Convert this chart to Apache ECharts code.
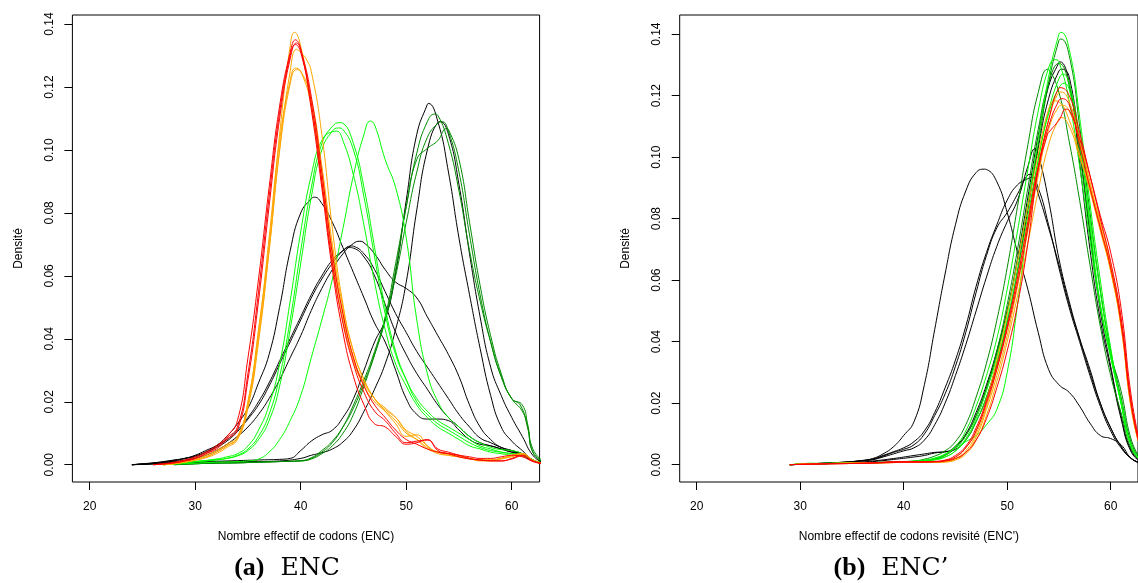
<!DOCTYPE html>
<html>
<head>
<meta charset="utf-8">
<script src="https://cdn.jsdelivr.net/npm/echarts@6/dist/echarts.min.js"></script>
<style>html,body{margin:0;padding:0;background:#fff;}#c{width:1138px;height:583px;}</style>
</head>
<body>
<div id="c"></div>
<script>
// ---------- tick labels ----------
const xTicks = [20, 30, 40, 50, 60];
const yTicks = [0, 0.02, 0.04, 0.06, 0.08, 0.10, 0.12, 0.14];

// ---------- panel (a) ENC : density curves [x, density] ----------
const encBlack1 = [[24,0],[25,0.0002],[26,0.0004],[27,0.0008],[28,0.0012],[29,0.002],[30,0.0025],[31,0.004],[32,0.006],[33,0.009],[34,0.013],[35,0.018],[36,0.026],[37,0.035],[38,0.05],[39,0.068],[40,0.08],[41,0.0845],[41.3,0.085],[42,0.083],[43,0.077],[44,0.069],[45,0.061],[46,0.053],[47,0.045],[48,0.039],[49,0.03],[50,0.021],[51,0.016],[52,0.0145],[53,0.0145],[54,0.014],[55,0.011],[56,0.008],[57,0.0065],[58,0.006],[59,0.005],[60,0.004],[61,0.0035],[62,0.0015],[63,0.0003]];
const encBlack2 = [[24,0],[25,0.0003],[26,0.0006],[27,0.001],[28,0.0015],[29,0.002],[30,0.003],[31,0.0045],[32,0.006],[33,0.008],[34,0.011],[35,0.015],[36,0.02],[37,0.026],[38,0.033],[39,0.04],[40,0.047],[41,0.054],[42,0.06],[43,0.065],[44,0.068],[44.6,0.069],[45,0.0688],[46,0.066],[47,0.06],[48,0.051],[49,0.042],[50,0.035],[51,0.029],[52,0.024],[53,0.019],[54,0.015],[55,0.012],[56,0.009],[57,0.007],[58,0.006],[59,0.005],[60,0.004],[61,0.003],[62,0.0012],[63,0.0003]];
const encBlack3 = [[24,0],[25,0.0002],[26,0.0005],[27,0.0009],[28,0.0014],[29,0.002],[30,0.0028],[31,0.004],[32,0.0055],[33,0.0075],[34,0.0105],[35,0.0145],[36,0.019],[37,0.025],[38,0.032],[39,0.039],[40,0.046],[41,0.053],[42,0.059],[43,0.064],[44,0.068],[44.8,0.0695],[45,0.0694],[46,0.067],[47,0.062],[48,0.055],[49,0.048],[50,0.042],[51,0.036],[52,0.031],[53,0.026],[54,0.021],[55,0.016],[56,0.012],[57,0.0085],[58,0.007],[59,0.0055],[60,0.0045],[61,0.0035],[62,0.0013],[63,0.0003]];
const encBlack4 = [[24,0],[25,0.0002],[26,0.0004],[27,0.0007],[28,0.001],[29,0.0015],[30,0.002],[31,0.003],[32,0.0045],[33,0.0065],[34,0.009],[35,0.012],[36,0.016],[37,0.021],[38,0.027],[39,0.034],[40,0.041],[41,0.049],[42,0.056],[43,0.062],[44,0.067],[45,0.0703],[45.6,0.071],[46,0.0705],[47,0.067],[48,0.062],[49,0.058],[50,0.056],[51,0.053],[52,0.047],[53,0.041],[54,0.035],[55,0.028],[56,0.019],[57,0.012],[58,0.008],[59,0.0055],[60,0.0045],[61,0.003],[62,0.0012],[63,0.0003]];
const encBlack5 = [[24,0],[26,0.0003],[28,0.0007],[30,0.001],[32,0.0011],[34,0.0013],[36,0.0015],[38,0.0017],[39,0.002],[40,0.0045],[41,0.0075],[42,0.0095],[43,0.011],[44,0.015],[45,0.021],[46,0.03],[47,0.039],[48,0.046],[49,0.061],[50,0.084],[51,0.105],[52,0.1145],[52.1,0.1148],[53,0.109],[54,0.093],[55,0.072],[56,0.054],[57,0.037],[58,0.022],[59,0.012],[60,0.0075],[61,0.0045],[62,0.0015],[63,0.0003]];
const encBlack6 = [[24,0],[26,0.0002],[28,0.0005],[30,0.0007],[32,0.0008],[34,0.001],[36,0.001],[38,0.0012],[40,0.002],[41,0.003],[42,0.0038],[43,0.005],[44,0.0072],[45,0.011],[46,0.017],[47,0.024],[48,0.032],[49,0.043],[50,0.058],[51,0.081],[52,0.1],[53,0.1088],[53.2,0.109],[54,0.105],[55,0.089],[56,0.067],[57,0.047],[58,0.031],[59,0.022],[60,0.015],[61,0.009],[62,0.003],[63,0.0005]];
const encDark1 = [[28,0],[30,0.0003],[32,0.0005],[34,0.0006],[36,0.0008],[38,0.001],[40,0.0012],[41,0.002],[42,0.004],[43,0.007],[44,0.012],[45,0.019],[46,0.027],[47,0.036],[48,0.047],[49,0.064],[50,0.082],[51,0.099],[52,0.109],[52.7,0.1114],[53,0.111],[54,0.102],[55,0.087],[56,0.068],[57,0.052],[58,0.039],[59,0.028],[60,0.021],[61,0.017],[61.5,0.012],[62,0.004],[63,0.0008]];
const encDark2 = [[28,0],[30,0.0003],[32,0.0005],[34,0.0006],[36,0.0008],[38,0.001],[40,0.0012],[41,0.0018],[42,0.0035],[43,0.006],[44,0.01],[45,0.016],[46,0.025],[47,0.035],[48,0.046],[49,0.062],[50,0.082],[51,0.097],[52,0.1005],[53,0.103],[53.8,0.1068],[54,0.1065],[55,0.097],[56,0.077],[57,0.057],[58,0.041],[59,0.029],[60,0.021],[61,0.019],[61.5,0.013],[62,0.005],[63,0.001]];
const encDark3 = [[28,0],[30,0.0003],[32,0.0005],[34,0.0006],[36,0.0008],[38,0.001],[40,0.0013],[41,0.0022],[42,0.0045],[43,0.0075],[44,0.012],[45,0.018],[46,0.026],[47,0.035],[48,0.046],[49,0.06],[50,0.077],[51,0.093],[52,0.104],[53,0.1085],[53.4,0.109],[54,0.106],[55,0.093],[56,0.073],[57,0.054],[58,0.039],[59,0.028],[60,0.021],[60.8,0.019],[61.5,0.012],[62,0.004],[63,0.0008]];
const encGreen1 = [[27,0],[28,0.0003],[29,0.0006],[30,0.001],[31,0.0013],[32,0.0016],[33,0.002],[34,0.003],[35,0.005],[36,0.009],[37,0.016],[38,0.028],[39,0.046],[40,0.068],[41,0.088],[42,0.102],[43,0.1075],[43.7,0.1087],[44,0.1085],[45,0.102],[46,0.088],[47,0.069],[48,0.05],[49,0.036],[50,0.027],[51,0.02],[52,0.016],[53,0.013],[54,0.011],[55,0.009],[56,0.007],[57,0.0055],[58,0.0045],[59,0.004],[60,0.0035],[61,0.003],[62,0.0015],[63,0.0004]];
const encGreen2 = [[27,0],[28,0.0003],[30,0.0009],[32,0.0015],[33,0.002],[34,0.0028],[35,0.0045],[36,0.008],[37,0.014],[38,0.025],[39,0.043],[40,0.064],[41,0.085],[42,0.1],[43,0.106],[43.6,0.107],[44,0.1065],[45,0.1],[46,0.085],[47,0.066],[48,0.048],[49,0.035],[50,0.027],[51,0.021],[52,0.017],[53,0.014],[54,0.012],[55,0.01],[56,0.008],[57,0.006],[58,0.005],[59,0.004],[60,0.0035],[61,0.003],[62,0.0015],[63,0.0004]];
const encGreen3 = [[27,0],[28,0.0003],[30,0.001],[32,0.0018],[33,0.0025],[34,0.0035],[35,0.006],[36,0.011],[37,0.019],[38,0.032],[39,0.052],[40,0.074],[41,0.092],[42,0.103],[43,0.1058],[43.4,0.106],[44,0.103],[45,0.092],[46,0.076],[47,0.058],[48,0.043],[49,0.032],[50,0.025],[51,0.019],[52,0.015],[53,0.012],[54,0.01],[55,0.008],[56,0.006],[57,0.005],[58,0.004],[59,0.0035],[60,0.003],[61,0.0028],[62,0.0014],[63,0.0004]];
const encGreen4 = [[27,0],[28,0.0002],[30,0.0005],[32,0.0008],[34,0.001],[35,0.0012],[36,0.0018],[37,0.004],[38,0.008],[39,0.014],[40,0.022],[41,0.034],[42,0.046],[43,0.059],[44,0.075],[45,0.092],[46,0.105],[46.6,0.1092],[47,0.108],[48,0.097],[49,0.088],[50,0.072],[51,0.046],[52,0.029],[53,0.02],[54,0.015],[55,0.012],[56,0.009],[57,0.007],[58,0.0055],[59,0.0048],[60,0.0045],[61,0.0035],[62,0.0015],[63,0.0004]];
const encOrange1 = [[27,0],[28,0.0004],[29,0.001],[30,0.0018],[31,0.003],[32,0.0045],[33,0.0065],[34,0.009],[35,0.02],[36,0.043],[37,0.07],[38,0.105],[39,0.133],[39.4,0.1374],[40,0.133],[41,0.114],[42,0.09],[43,0.065],[44,0.046],[45,0.033],[46,0.025],[47,0.02],[48,0.017],[49,0.014],[50,0.01],[51,0.008],[52,0.0055],[53,0.004],[54,0.003],[55,0.0025],[56,0.002],[57,0.0015],[58,0.0015],[59,0.002],[60,0.003],[61,0.0035],[62,0.0015],[63,0.0004]];
const encOrange2 = [[27,0],[28,0.0003],[29,0.0008],[30,0.0015],[31,0.0025],[32,0.004],[33,0.006],[34,0.0085],[35,0.02],[36,0.042],[37,0.072],[38,0.103],[39,0.122],[39.5,0.126],[40,0.125],[41,0.114],[42,0.092],[43,0.068],[44,0.048],[45,0.034],[46,0.026],[47,0.021],[48,0.018],[49,0.015],[50,0.0105],[51,0.008],[52,0.005],[53,0.004],[54,0.0035],[55,0.0025],[56,0.002],[57,0.0015],[58,0.0015],[59,0.002],[60,0.0028],[61,0.003],[62,0.0012],[63,0.0003]];
const encOrange3 = [[27,0],[28,0.0003],[29,0.0008],[30,0.0014],[31,0.0022],[32,0.0035],[33,0.0055],[34,0.008],[35,0.018],[36,0.039],[37,0.068],[38,0.1],[39,0.121],[39.6,0.1255],[40,0.125],[41,0.116],[42,0.095],[43,0.07],[44,0.05],[45,0.036],[46,0.027],[47,0.021],[48,0.017],[49,0.013],[50,0.009],[51,0.0095],[52,0.006],[53,0.0035],[54,0.003],[55,0.0025],[56,0.002],[57,0.0012],[58,0.0012],[59,0.0018],[60,0.0025],[61,0.0032],[62,0.0012],[63,0.0003]];
const encOrange4 = [[27,0],[28,0.0003],[29,0.0008],[30,0.0015],[31,0.0025],[32,0.004],[33,0.006],[34,0.0085],[35,0.019],[36,0.04],[37,0.068],[38,0.1],[39,0.125],[39.6,0.132],[40,0.131],[40.5,0.129],[41,0.125],[42,0.105],[43,0.075],[44,0.051],[45,0.036],[46,0.027],[47,0.021],[48,0.0175],[49,0.015],[50,0.011],[51,0.009],[52,0.006],[53,0.004],[54,0.0035],[55,0.003],[56,0.002],[57,0.0015],[58,0.0015],[59,0.002],[60,0.0028],[61,0.0035],[62,0.0015],[63,0.0004]];
const encRed1 = [[26,0],[27,0.0003],[28,0.0008],[29,0.0015],[30,0.0025],[31,0.004],[32,0.006],[33,0.009],[34,0.014],[35,0.034],[36,0.059],[37,0.088],[38,0.114],[39,0.131],[39.5,0.135],[40,0.132],[41,0.113],[42,0.088],[43,0.062],[44,0.042],[45,0.028],[46,0.019],[47,0.013],[48,0.012],[49,0.009],[50,0.0065],[51,0.007],[52,0.008],[53,0.0045],[54,0.0035],[55,0.0025],[56,0.0018],[57,0.0015],[58,0.0013],[59,0.0012],[60,0.0018],[61,0.0028],[62,0.0012],[63,0.0003]];
const encRed2 = [[26,0],[27,0.0002],[28,0.0006],[29,0.0012],[30,0.002],[31,0.0035],[32,0.005],[33,0.008],[34,0.011],[35,0.027],[36,0.052],[37,0.082],[38,0.11],[39,0.129],[39.6,0.134],[40,0.132],[41,0.117],[42,0.093],[43,0.067],[44,0.048],[45,0.034],[46,0.025],[47,0.019],[48,0.015],[49,0.011],[50,0.008],[51,0.0065],[52,0.005],[53,0.004],[54,0.0035],[55,0.003],[56,0.0025],[57,0.002],[58,0.002],[59,0.0025],[60,0.003],[61,0.0025],[62,0.001],[63,0.0002]];
const encRed3 = [[26,0],[28,0.0006],[29,0.0012],[30,0.002],[31,0.0035],[32,0.0055],[33,0.0085],[34,0.012],[35,0.029],[36,0.055],[37,0.085],[38,0.112],[39,0.13],[39.5,0.1335],[40,0.131],[41,0.115],[42,0.09],[43,0.064],[44,0.045],[45,0.032],[46,0.023],[47,0.017],[48,0.014],[49,0.01],[50,0.007],[51,0.0075],[52,0.0078],[53,0.005],[54,0.004],[55,0.003],[56,0.002],[57,0.0015],[58,0.0012],[59,0.0012],[60,0.002],[61,0.003],[62,0.0012],[63,0.0003]];

// ---------- panel (b) ENC' : density curves [x, density] ----------
const revBlack1 = [[29,0],[30,0.0001],[32,0.0003],[34,0.0006],[35,0.0009],[36,0.0014],[37,0.002],[38,0.0035],[39,0.0058],[40,0.0095],[41,0.014],[42,0.026],[43,0.044],[44,0.062],[45,0.078],[46,0.089],[47,0.095],[47.8,0.0961],[48,0.096],[49,0.092],[50,0.082],[51,0.069],[52,0.057],[53,0.043],[54,0.031],[55,0.026],[56,0.0235],[57,0.019],[58,0.0135],[59,0.0095],[60,0.0085],[61,0.0065],[62,0.002],[63,0.0004]];
const revBlack2 = [[29,0],[31,0.0003],[33,0.0006],[35,0.001],[36,0.0013],[37,0.0016],[38,0.0025],[39,0.0035],[40,0.0045],[41,0.0055],[42,0.008],[43,0.013],[44,0.02],[45,0.029],[46,0.039],[47,0.05],[48,0.061],[49,0.071],[50,0.079],[51,0.086],[52,0.097],[52.7,0.1028],[53,0.101],[54,0.086],[55,0.067],[56,0.053],[57,0.041],[58,0.03],[59,0.02],[60,0.012],[61,0.006],[62,0.002],[63,0.0004]];
const revBlack3 = [[29,0],[31,0.0003],[33,0.0006],[35,0.001],[37,0.0018],[38,0.0028],[39,0.004],[40,0.005],[41,0.0065],[42,0.01],[43,0.016],[44,0.023],[45,0.032],[46,0.043],[47,0.056],[48,0.068],[49,0.077],[50,0.082],[51,0.088],[52,0.0942],[52.2,0.0944],[53,0.09],[54,0.078],[55,0.064],[56,0.051],[57,0.04],[58,0.029],[59,0.019],[60,0.011],[61,0.0055],[62,0.002],[63,0.0004]];
const revBlack4 = [[29,0],[31,0.0003],[33,0.0006],[35,0.001],[37,0.0018],[38,0.003],[39,0.0042],[40,0.0055],[41,0.0075],[42,0.011],[43,0.017],[44,0.025],[45,0.034],[46,0.045],[47,0.058],[48,0.069],[49,0.078],[50,0.086],[51,0.091],[52,0.093],[52.4,0.0935],[53,0.088],[54,0.077],[55,0.065],[56,0.052],[57,0.041],[58,0.031],[59,0.02],[60,0.012],[61,0.006],[62,0.002],[63,0.0004]];
const revBlack5 = [[29,0],[31,0.0002],[33,0.0004],[35,0.0007],[37,0.0012],[39,0.002],[41,0.003],[42,0.0035],[43,0.004],[44,0.0042],[45,0.006],[46,0.01],[47,0.017],[48,0.026],[49,0.037],[50,0.05],[51,0.067],[52,0.087],[53,0.107],[54,0.123],[55,0.1308],[55.1,0.131],[56,0.124],[57,0.098],[58,0.07],[59,0.047],[60,0.031],[61,0.015],[62,0.004],[63,0.0008]];
const revBlack6 = [[29,0],[31,0.0002],[33,0.0004],[35,0.0006],[37,0.001],[39,0.0017],[41,0.0025],[42,0.003],[43,0.0038],[44,0.0042],[45,0.005],[46,0.008],[47,0.014],[48,0.022],[49,0.033],[50,0.046],[51,0.063],[52,0.083],[53,0.103],[54,0.119],[55,0.128],[55.3,0.1286],[56,0.126],[57,0.103],[58,0.075],[59,0.05],[60,0.032],[61,0.016],[62,0.0045],[63,0.0009]];
const revDark1 = [[29,0],[31,0.0003],[33,0.0004],[35,0.0005],[37,0.0006],[39,0.0008],[41,0.001],[42,0.0013],[43,0.0018],[44,0.003],[45,0.0055],[46,0.0095],[47,0.016],[48,0.025],[49,0.036],[50,0.05],[51,0.066],[52,0.084],[53,0.104],[54,0.124],[55,0.138],[55.2,0.1384],[56,0.133],[57,0.11],[58,0.082],[59,0.057],[60,0.037],[61,0.022],[62,0.007],[63,0.0012]];
const revDark2 = [[29,0],[31,0.0003],[33,0.0005],[35,0.0006],[37,0.0007],[39,0.0009],[41,0.0012],[42,0.0018],[43,0.0028],[44,0.0045],[45,0.0075],[46,0.013],[47,0.022],[48,0.033],[49,0.047],[50,0.064],[51,0.084],[52,0.104],[53,0.121],[53.9,0.1286],[54,0.1285],[55,0.121],[56,0.105],[57,0.086],[58,0.065],[59,0.045],[60,0.029],[61,0.017],[62,0.005],[63,0.001]];
const revDark3 = [[29,0],[31,0.0003],[33,0.0004],[35,0.0005],[37,0.0006],[39,0.0008],[41,0.001],[42,0.0013],[43,0.002],[44,0.0032],[45,0.0055],[46,0.0095],[47,0.016],[48,0.025],[49,0.037],[50,0.052],[51,0.07],[52,0.09],[53,0.109],[54,0.124],[55,0.1305],[56,0.123],[57,0.101],[58,0.076],[59,0.052],[60,0.036],[61,0.024],[62,0.008],[63,0.0013]];
const revGreen1 = [[29,0],[31,0.0003],[33,0.0004],[35,0.0005],[37,0.0006],[39,0.0008],[41,0.001],[42,0.0012],[43,0.0016],[44,0.0025],[45,0.0045],[46,0.0085],[47,0.015],[48,0.024],[49,0.035],[50,0.049],[51,0.066],[52,0.085],[53,0.106],[54,0.126],[55,0.14],[55.2,0.1406],[56,0.135],[57,0.113],[58,0.085],[59,0.06],[60,0.038],[61,0.02],[62,0.006],[63,0.001]];
const revGreen2 = [[29,0],[31,0.0004],[33,0.0005],[35,0.0006],[37,0.0007],[39,0.0009],[41,0.0012],[42,0.0015],[43,0.0022],[44,0.0035],[45,0.006],[46,0.011],[47,0.019],[48,0.029],[49,0.041],[50,0.057],[51,0.076],[52,0.096],[53,0.115],[54,0.129],[54.6,0.1317],[55,0.131],[56,0.118],[57,0.097],[58,0.073],[59,0.051],[60,0.035],[61,0.02],[62,0.006],[63,0.001]];
const revGreen3 = [[29,0],[31,0.0003],[33,0.0004],[35,0.0005],[37,0.0006],[39,0.0008],[41,0.001],[42,0.0012],[43,0.0016],[44,0.0025],[45,0.0045],[46,0.008],[47,0.014],[48,0.022],[49,0.033],[50,0.047],[51,0.063],[52,0.081],[53,0.099],[54,0.115],[55,0.1255],[55.4,0.127],[56,0.124],[57,0.106],[58,0.078],[59,0.052],[60,0.035],[61,0.021],[62,0.006],[63,0.001]];
const revGreen4 = [[29,0],[30,0.0002],[31,0.0005],[32,0.0003],[34,0.0004],[36,0.0005],[38,0.0007],[40,0.0009],[42,0.0013],[43,0.002],[44,0.0033],[45,0.0055],[46,0.0075],[47,0.0095],[48,0.013],[49,0.018],[50,0.03],[51,0.052],[52,0.078],[53,0.099],[54,0.114],[55,0.1225],[55.5,0.124],[56,0.122],[57,0.104],[58,0.08],[59,0.056],[60,0.036],[61,0.02],[62,0.006],[63,0.001]];
const revOrange1 = [[29,0],[31,0.0003],[33,0.0004],[35,0.0005],[37,0.0006],[39,0.0007],[41,0.0008],[43,0.0008],[44,0.001],[45,0.002],[46,0.0045],[47,0.01],[48,0.019],[49,0.031],[50,0.045],[51,0.061],[52,0.079],[53,0.097],[54,0.112],[55,0.121],[55.2,0.1212],[56,0.118],[57,0.106],[58,0.092],[59,0.078],[60,0.064],[61,0.046],[62,0.019],[63,0.004]];
const revOrange2 = [[29,0],[31,0.0003],[33,0.0004],[35,0.0005],[37,0.0006],[39,0.0007],[41,0.0008],[43,0.0009],[44,0.0012],[45,0.0025],[46,0.0055],[47,0.011],[48,0.021],[49,0.034],[50,0.049],[51,0.066],[52,0.084],[53,0.101],[54,0.1155],[54.6,0.1183],[55,0.118],[56,0.112],[57,0.101],[58,0.089],[59,0.076],[60,0.063],[61,0.045],[62,0.018],[63,0.0035]];
const revOrange3 = [[29,0],[31,0.0003],[33,0.0004],[35,0.0005],[37,0.0006],[39,0.0007],[41,0.0008],[43,0.0008],[44,0.0009],[45,0.0018],[46,0.004],[47,0.009],[48,0.018],[49,0.029],[50,0.042],[51,0.058],[52,0.076],[53,0.094],[54,0.109],[55,0.1165],[55.3,0.1169],[56,0.115],[57,0.105],[58,0.091],[59,0.077],[60,0.063],[61,0.045],[62,0.018],[63,0.0035]];
const revOrange4 = [[29,0],[31,0.0003],[33,0.0004],[35,0.0005],[37,0.0006],[39,0.0007],[41,0.0008],[43,0.0008],[44,0.0009],[45,0.0015],[46,0.0035],[47,0.008],[48,0.016],[49,0.027],[50,0.04],[51,0.055],[52,0.072],[53,0.089],[54,0.104],[55,0.1125],[55.2,0.1129],[56,0.11],[57,0.1],[57.8,0.0923],[58,0.09],[59,0.079],[60,0.065],[61,0.047],[62,0.019],[63,0.0035]];
const revRed1 = [[29,0],[31,0.0002],[33,0.0003],[35,0.0004],[37,0.0006],[38,0.0008],[39,0.001],[40,0.001],[41,0.0009],[42,0.0009],[43,0.001],[44,0.0014],[45,0.0025],[46,0.0055],[47,0.011],[48,0.02],[49,0.031],[50,0.044],[51,0.059],[52,0.077],[53,0.096],[54,0.112],[55,0.1225],[55.1,0.1226],[56,0.12],[57,0.108],[58,0.094],[59,0.08],[60,0.066],[61,0.048],[62,0.02],[63,0.004]];
const revRed2 = [[29,0],[31,0.0002],[33,0.0003],[35,0.0004],[37,0.0005],[39,0.0007],[41,0.0008],[43,0.0009],[44,0.0012],[45,0.002],[46,0.004],[47,0.008],[48,0.015],[49,0.025],[50,0.037],[51,0.052],[52,0.072],[53,0.096],[53.9,0.1075],[54,0.108],[55,0.112],[55.7,0.1156],[56,0.1152],[57,0.106],[58,0.094],[59,0.081],[60,0.069],[61,0.051],[62,0.022],[63,0.004]];
const revRed3 = [[29,0],[31,0.0002],[33,0.0003],[35,0.0004],[37,0.0006],[39,0.0009],[41,0.001],[43,0.0011],[44,0.0015],[45,0.003],[46,0.006],[47,0.012],[48,0.021],[49,0.032],[50,0.045],[51,0.061],[52,0.079],[53,0.097],[54,0.11],[55,0.1185],[55.3,0.119],[56,0.117],[57,0.104],[58,0.09],[59,0.077],[60,0.064],[61,0.046],[62,0.019],[63,0.0035]];

// ---------- styling ----------
const C_BLACK = '#000000', C_DARK = '#008B00', C_GREEN = '#00FF00', C_ORANGE = '#FFA500', C_RED = '#FF0000';
const SANS = '"Liberation Sans", Arial, Helvetica, sans-serif';

const encCurves = [
  [encBlack1, C_BLACK], [encBlack2, C_BLACK], [encBlack3, C_BLACK], [encBlack4, C_BLACK], [encBlack5, C_BLACK], [encBlack6, C_BLACK],
  [encDark1, C_DARK], [encDark2, C_DARK], [encDark3, C_DARK],
  [encGreen1, C_GREEN], [encGreen2, C_GREEN], [encGreen3, C_GREEN], [encGreen4, C_GREEN],
  [encOrange1, C_ORANGE], [encOrange2, C_ORANGE], [encOrange3, C_ORANGE], [encOrange4, C_ORANGE],
  [encRed1, C_RED], [encRed2, C_RED], [encRed3, C_RED]
];
const revCurves = [
  [revBlack1, C_BLACK], [revBlack2, C_BLACK], [revBlack3, C_BLACK], [revBlack4, C_BLACK], [revBlack5, C_BLACK], [revBlack6, C_BLACK],
  [revDark1, C_DARK], [revDark2, C_DARK], [revDark3, C_DARK],
  [revGreen1, C_GREEN], [revGreen2, C_GREEN], [revGreen3, C_GREEN], [revGreen4, C_GREEN],
  [revOrange1, C_ORANGE], [revOrange2, C_ORANGE], [revOrange3, C_ORANGE], [revOrange4, C_ORANGE],
  [revRed1, C_RED], [revRed2, C_RED], [revRed3, C_RED]
];

function peak(curves) {
  let m = 0;
  curves.forEach(c => c[0].forEach(p => { if (p[1] > m) m = p[1]; }));
  return m;
}

function mkX(idx, title) {
  return {
    type: 'value', gridIndex: idx, min: 18.36, max: 62.64,
    name: title, nameLocation: 'middle', nameGap: 49,
    nameTextStyle: { fontFamily: SANS, fontSize: 12, color: '#000' },
    axisLine: { show: false, onZero: false },
    axisTick: { show: true, inside: false, length: 8, customValues: xTicks, lineStyle: { color: '#000', width: 1 } },
    axisLabel: { show: true, customValues: xTicks, margin: 19, fontFamily: SANS, fontSize: 12, color: '#000' },
    splitLine: { show: false }
  };
}
function mkY(idx, curves) {
  const m = peak(curves);
  return {
    type: 'value', gridIndex: idx, min: -0.04 * m, max: 1.04 * m,
    name: 'Densité', nameLocation: 'middle', nameGap: 48, nameRotate: 90,
    nameTextStyle: { fontFamily: SANS, fontSize: 12, color: '#000' },
    axisLine: { show: false, onZero: false },
    axisTick: { show: true, inside: false, length: 8, customValues: yTicks, lineStyle: { color: '#000', width: 1 } },
    axisLabel: { show: true, customValues: yTicks, rotate: 90, margin: 17, fontFamily: SANS, fontSize: 12, color: '#000',
      formatter: v => Number(v).toFixed(2) },
    splitLine: { show: false }
  };
}
function mkSeries(curves, idx) {
  return curves.map(c => ({
    type: 'line', xAxisIndex: idx, yAxisIndex: idx, data: c[0],
    showSymbol: false, symbol: 'none', smooth: 0.5,
    lineStyle: { color: c[1], width: 1 }, itemStyle: { color: c[1] },
    silent: true, animation: false, clip: true
  }));
}

const chart = echarts.init(document.getElementById('c'), null, { renderer: 'canvas' });
chart.setOption({
  animation: false,
  backgroundColor: '#ffffff',
  grid: [
    { left: 72.4, top: 15, width: 467.2, height: 467, show: true, borderColor: '#000', borderWidth: 1, backgroundColor: 'rgba(0,0,0,0)' },
    { left: 679.7, top: 15, width: 468.3, height: 467, show: true, borderColor: '#000', borderWidth: 1, backgroundColor: 'rgba(0,0,0,0)' }
  ],
  xAxis: [mkX(0, 'Nombre effectif de codons (ENC)'), mkX(1, "Nombre effectif de codons revisité (ENC')")],
  yAxis: [mkY(0, encCurves), mkY(1, revCurves)],
  series: mkSeries(encCurves, 0).concat(mkSeries(revCurves, 1)),
  graphic: [
    { type: 'text', x: 287, y: 568, style: {
        text: '{p|(a)}{e|ENC}', textAlign: 'center', textVerticalAlign: 'middle', align: 'center', verticalAlign: 'middle', fill: '#000',
        rich: { p: { fontFamily: '"Liberation Serif", serif', fontWeight: 'bold', fontSize: 26, padding: [0, 16, 0, 0] },
                e: { fontFamily: '"DejaVu Serif", serif', fontSize: 25 } } } },
    { type: 'text', x: 891, y: 568, style: {
        text: '{p|(b)}{e|ENC\u2019}', textAlign: 'center', textVerticalAlign: 'middle', align: 'center', verticalAlign: 'middle', fill: '#000',
        rich: { p: { fontFamily: '"Liberation Serif", serif', fontWeight: 'bold', fontSize: 26, padding: [0, 16, 0, 0] },
                e: { fontFamily: '"DejaVu Serif", serif', fontSize: 25 } } } }
  ]
});
</script>
</body>
</html>
